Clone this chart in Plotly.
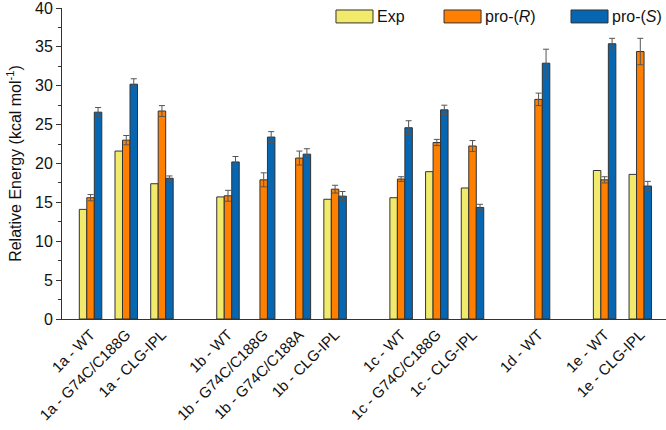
import plotly.graph_objects as go

# ---- data ----
categories = ["1a - WT", "1a - G74C/C188G", "1a - CLG-IPL",
              "1b - WT", "1b - G74C/C188G", "1b - G74C/C188A", "1b - CLG-IPL",
              "1c - WT", "1c - G74C/C188G", "1c - CLG-IPL",
              "1d - WT",
              "1e - WT", "1e - CLG-IPL"]
# x positions (groups separated by a gap)
x_pos = [0, 1, 2, 3.85, 4.85, 5.85, 6.85, 8.7, 9.7, 10.7, 12.55, 14.4, 15.4]

exp_vals = [14.1, 21.6, 17.4, 15.7, None, None, 15.4, 15.6, 18.95, 16.85, None, 19.1, 18.6]

pro_r_vals = [15.6, 23.0, 26.75, 15.85, 17.9, 20.7, 16.7, 18.0, 22.7, 22.25, 28.25, 17.9, 34.4]
pro_r_err = [0.4, 0.6, 0.7, 0.7, 0.9, 0.9, 0.5, 0.3, 0.4, 0.7, 0.8, 0.4, 1.7]

pro_s_vals = [26.6, 30.2, 18.1, 20.2, 23.4, 21.2, 15.8, 24.6, 26.9, 14.35, 32.9, 35.4, 17.1]
pro_s_err = [0.6, 0.7, 0.3, 0.7, 0.7, 0.7, 0.6, 0.9, 0.6, 0.4, 1.8, 0.7, 0.6]

y_ticks = [0, 5, 10, 15, 20, 25, 30, 35, 40]

series_names = ["Exp", "pro-(<i>R</i>)", "pro-(<i>S</i>)"]
colors = ["#F2EA6A", "#FF8000", "#0766B1"]

font_family = "Arial, 'Liberation Sans', sans-serif"

fig = go.Figure()
err_style = dict(type="data", color="#555555", thickness=1, width=3, visible=True)
outline = dict(color="#333333", width=1)

fig.add_trace(go.Bar(x=x_pos, y=exp_vals, name=series_names[0],
                     marker=dict(color=colors[0], line=outline)))
fig.add_trace(go.Bar(x=x_pos, y=pro_r_vals, name=series_names[1],
                     error_y=dict(array=pro_r_err, **err_style),
                     marker=dict(color=colors[1], line=outline)))
fig.add_trace(go.Bar(x=x_pos, y=pro_s_vals, name=series_names[2],
                     error_y=dict(array=pro_s_err, **err_style),
                     marker=dict(color=colors[2], line=outline)))

# custom legend (wide swatches like the reference)
legend_x0 = [0.4536, 0.6325, 0.8427]
swatch_w = 0.0613
shapes = []
annotations = []
for i in range(3):
    shapes.append(dict(type="rect", xref="paper", yref="paper",
                       x0=legend_x0[i], x1=legend_x0[i] + swatch_w, y0=0.952, y1=0.9936,
                       fillcolor=colors[i], line=dict(color="#333333", width=1)))
    annotations.append(dict(xref="paper", yref="paper", x=legend_x0[i] + swatch_w + 0.004,
                            y=0.9728, xanchor="left", yanchor="middle", showarrow=False,
                            text=series_names[i],
                            font=dict(size=16, color="#111111", family=font_family)))

fig.update_layout(
    width=666, height=430,
    margin=dict(l=62, r=0, t=8, b=111, autoexpand=False),
    paper_bgcolor="white", plot_bgcolor="white",
    barmode="group", bargap=0.37, bargroupgap=0,
    showlegend=False,
    font=dict(family=font_family, color="#111111", size=16),
    shapes=shapes, annotations=annotations,
    xaxis=dict(range=[-0.8, 16.12], tickmode="array", tickvals=x_pos, ticktext=categories,
               tickangle=-45, showline=True, linecolor="#333333", linewidth=1,
               ticks="", showgrid=False, zeroline=False, automargin=False,
               tickfont=dict(size=15, color="#111111")),
    yaxis=dict(range=[0, 40], tickmode="array", tickvals=y_ticks,
               showline=True, linecolor="#333333", linewidth=1,
               ticks="outside", ticklen=5, tickcolor="#333333",
               minor=dict(dtick=2.5, ticks="outside", ticklen=3, tickcolor="#333333"),
               showgrid=False, zeroline=False, automargin=False,
               ticklabeloverflow="allow",
               tickfont=dict(size=16, color="#111111"),
               title=dict(text="Relative Energy (kcal mol<sup>-1</sup>)", standoff=9,
                          font=dict(size=16, color="#111111"))),
)

fig.write_html("out.html", config={"displayModeBar": False},
               post_script="document.body.style.margin='0px';document.body.style.overflow='hidden';")
